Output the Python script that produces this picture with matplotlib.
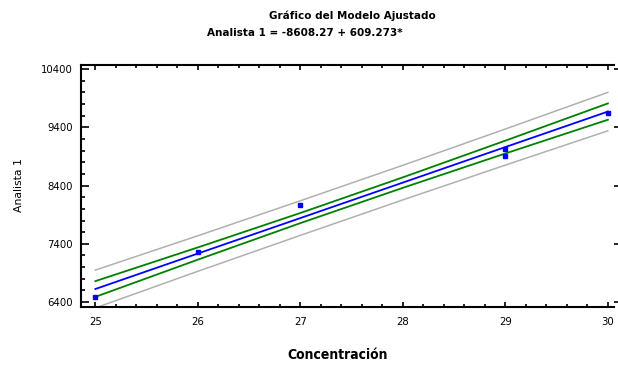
import matplotlib
matplotlib.use("Agg")
import matplotlib.pyplot as plt
from matplotlib.ticker import MultipleLocator
import numpy as np

# Observed data points
conc = [25, 26, 27, 29, 29, 30]
analista = [6486, 7253, 8058, 9020, 8904, 9654]

# Fitted line and bands read at x positions
x_line = [25, 26, 27, 28, 29, 30]
fit = [6624, 7233, 7842, 8451, 9061, 9670]
conf_half = [135, 105, 87, 90, 110, 140]
pred_half = [325, 305, 297, 297, 310, 330]

xticks = [25, 26, 27, 28, 29, 30]
yticks = [6400, 7400, 8400, 9400, 10400]

title1 = "Gráfico del Modelo Ajustado"
title2 = "Analista 1 = -8608.27 + 609.273*"
xlabel = "Concentración"
ylabel = "Analista 1"

fig = plt.figure(figsize=(6.18, 3.71), dpi=100)
ax = fig.add_axes([81/618, 1-307/371, (614-81)/618, (307-65)/371])

xl = np.array(x_line); f = np.array(fit)
c = np.array(conf_half); p = np.array(pred_half)
ax.plot(xl, f + p, color="#b0b0b0", lw=1.1)
ax.plot(xl, f - p, color="#b0b0b0", lw=1.1)
ax.plot(xl, f + c, color="#008000", lw=1.3)
ax.plot(xl, f - c, color="#008000", lw=1.3)
ax.plot(xl, f, color="#0000ff", lw=1.3)
ax.plot(conc, analista, ls="none", marker="s", ms=3.5, color="#0000ff", clip_on=False)

ax.set_xlim(24.86, 30.06)
ax.set_ylim(6315, 10470)
ax.set_xticks(xticks)
ax.set_yticks(yticks)
ax.xaxis.set_minor_locator(MultipleLocator(0.2))
ax.yaxis.set_minor_locator(MultipleLocator(200))
ax.tick_params(axis="both", which="both", direction="in", labelsize=7.3, width=1.2)
ax.tick_params(axis="y", which="major", length=6, pad=6)
ax.tick_params(axis="y", which="minor", length=3)
ax.tick_params(axis="x", which="major", length=3.5, pad=7, top=True)
ax.tick_params(axis="x", which="minor", length=2, top=True)
for s in ["left", "bottom", "top"]:
    ax.spines[s].set_linewidth(1.5)
ax.spines["right"].set_visible(False)

sec = ax.secondary_yaxis("right")
sec.set_yticks(yticks)
sec.set_yticklabels([])
sec.yaxis.set_minor_locator(plt.NullLocator())
sec.tick_params(direction="out", length=3, width=1.2)
sec.spines["right"].set_visible(False)

fig.text(352/618, 1-16/371, title1, ha="center", va="center", fontsize=7.5, fontweight="bold")
fig.text(305/618, 1-33/371, title2, ha="center", va="center", fontsize=7.5, fontweight="bold")
fig.text(338/618, 1-355/371, xlabel, ha="center", va="center", fontsize=10,
         family="DejaVu Sans", fontstretch="condensed", fontweight="bold")
fig.text(19/618, 1-185/371, ylabel, ha="center", va="center", fontsize=7.8, rotation=90)

fig.savefig("out.png", dpi=100)
